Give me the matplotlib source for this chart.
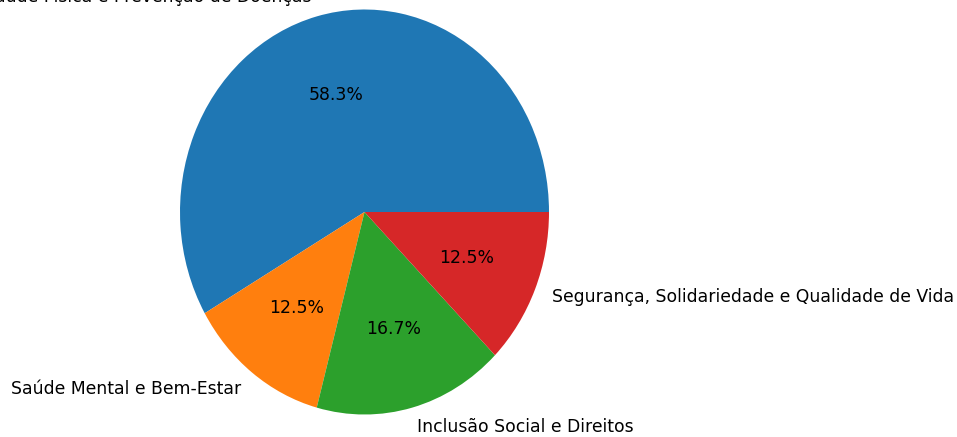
import matplotlib
matplotlib.use("Agg")
import matplotlib.pyplot as plt

categories = [
    "Saúde Física e Prevenção de Doenças",
    "Saúde Mental e Bem-Estar",
    "Inclusão Social e Direitos",
    "Segurança, Solidariedade e Qualidade de Vida",
]
counts = [14, 3, 4, 3]

W, H = 957, 437
cx, cy = 364.5, 212.0   # pie centre in pixels (from top-left)
rx, ry = 184.5, 202.5   # pie radii in pixels (picture is stretched vertically)

fig = plt.figure(figsize=(W / 100, H / 100), dpi=100)
ax = fig.add_axes([
    (cx - 1.25 * rx) / W,
    (H - cy - 1.25 * ry) / H,
    2.5 * rx / W,
    2.5 * ry / H,
])
ax.pie(counts, labels=categories, autopct="%1.1f%%",
       textprops={"fontsize": 12.4})
ax.set_aspect("auto")
ax.set_xlim(-1.25, 1.25)
ax.set_ylim(-1.25, 1.25)

fig.savefig("out.png", dpi=100)
